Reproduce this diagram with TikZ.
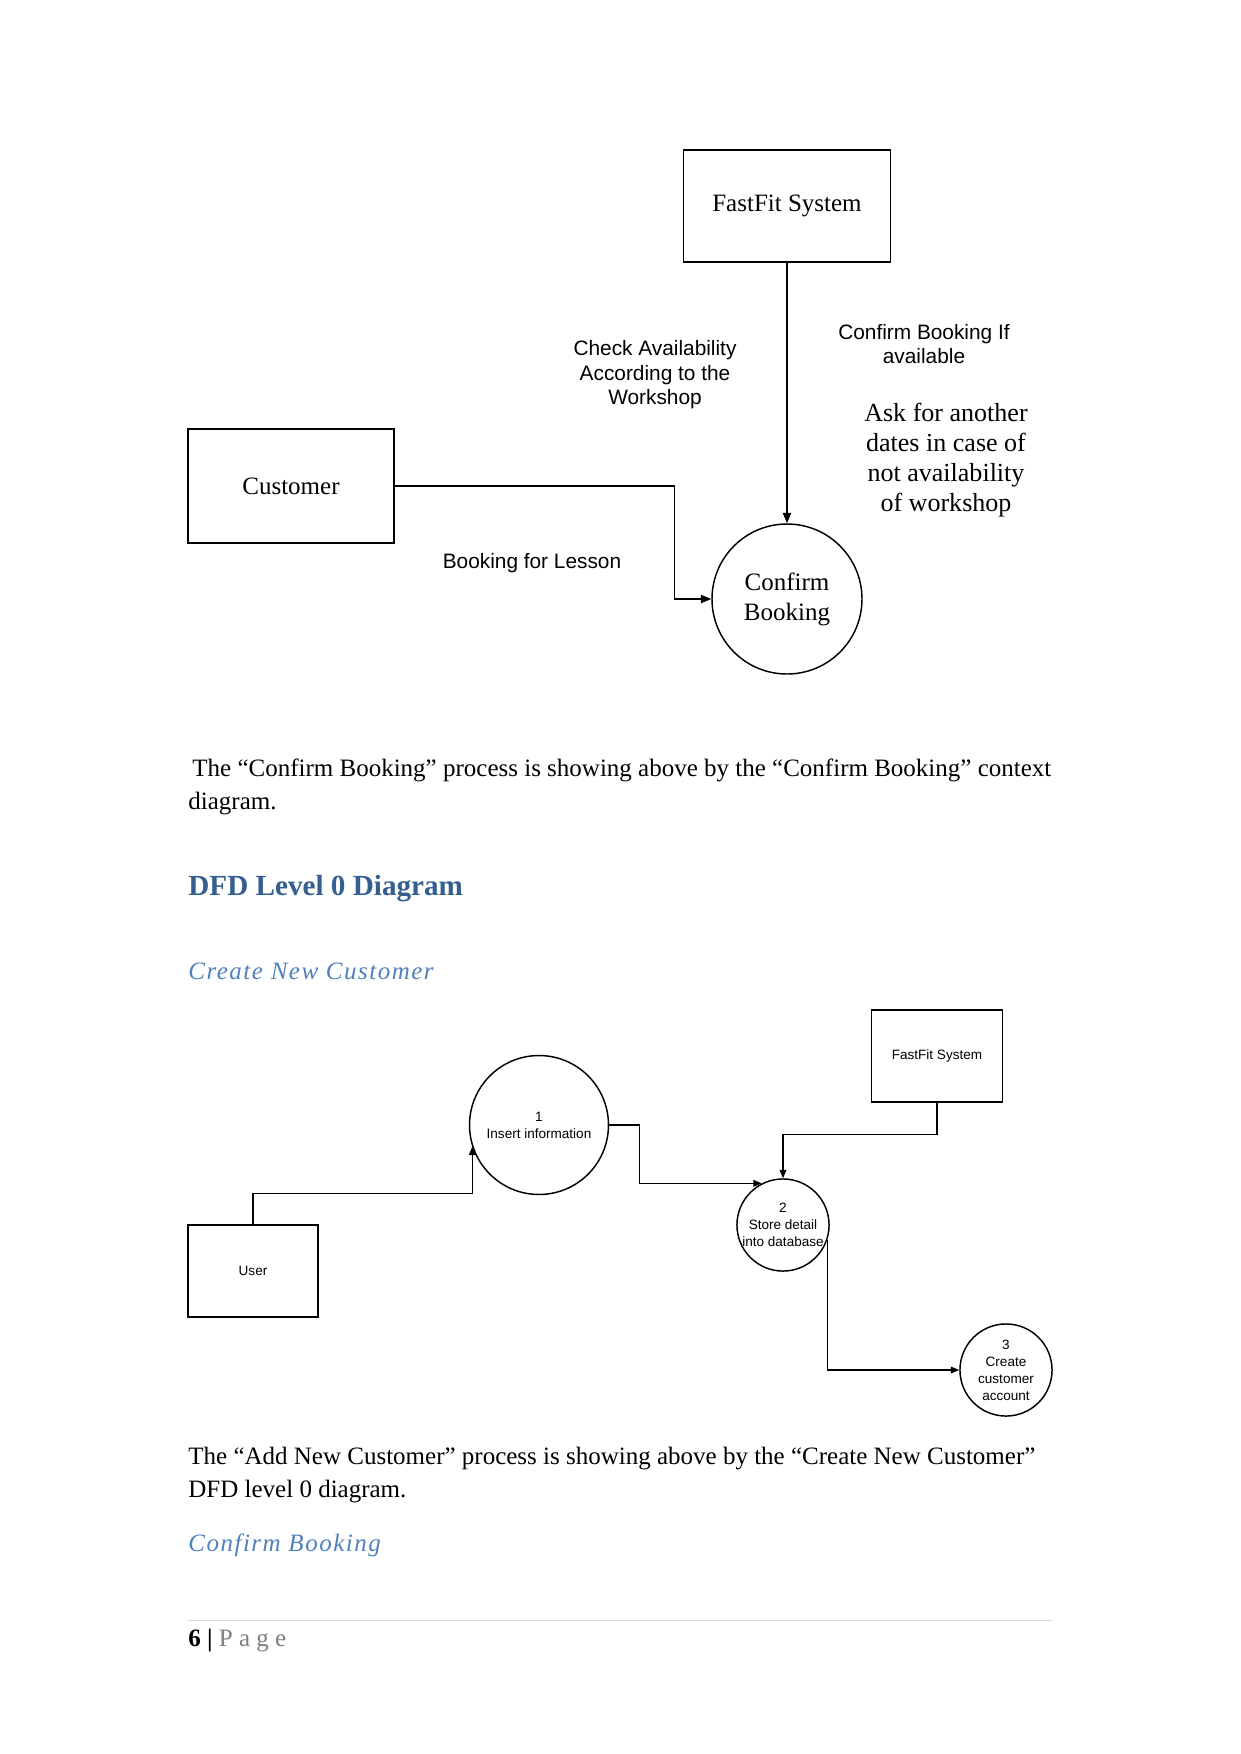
\documentclass[tikz,border=0pt]{standalone}
\usepackage{fontspec}
\setmainfont{Liberation Serif}
\setsansfont{Liberation Sans}
\newfontfamily\subheadfont[LetterSpace=6]{Liberation Serif}
\newfontfamily\pagefont[LetterSpace=25]{Liberation Serif}
\usepackage{tikz}
\usetikzlibrary{positioning,arrows.meta}
\definecolor{headblue}{RGB}{54,95,145}
\definecolor{subblue}{RGB}{79,129,189}
\definecolor{pagegray}{RGB}{127,127,127}
\definecolor{rulegray}{RGB}{217,217,217}

\begin{document}
\begin{tikzpicture}[x=0.48pt, y=-0.48pt,
      every node/.style={inner sep=0pt},
      entity/.style={draw, line width=0.7pt, align=center},
      proc/.style={draw, circle, line width=0.7pt, align=center},
      flow/.style={line width=0.6pt, -{Triangle[length=5pt,width=4pt]}},
      flowsm/.style={line width=0.6pt, -{Triangle[length=4pt,width=3.2pt]}},
      lbl/.style={font=\sffamily\fontsize{10}{11.8}\selectfont, align=center},
      note/.style={font=\fontsize{12.5}{14.3}\selectfont, align=center},
      tiny/.style={font=\sffamily\fontsize{6.5}{8.2}\selectfont, align=center},
      body/.style={font=\fontsize{12}{14}\selectfont, anchor=base west},
      subhead/.style={font=\subheadfont\itshape\fontsize{12}{14}\selectfont, text=subblue, anchor=base west}
    ]
      \useasboundingbox (0,0) rectangle (1241,1754);
      \fill[white] (0,0) rectangle (1241,1754);

      % context diagram: Confirm Booking
      \node[entity, minimum width=99.4pt, minimum height=53.8pt, font=\fontsize{12}{14}\selectfont] (sys1) at (787,206) {FastFit System};
      \node[entity, minimum width=98.9pt, minimum height=54.7pt, font=\fontsize{12}{14}\selectfont] (cust) at (291,486) {Customer};
      \node[proc, minimum size=72pt, font=\fontsize{12}{14.4}\selectfont] (book) at (787,599) {Confirm\\Booking};

      \draw[flow] (sys1.south) -- (book.north);
      \draw[flow] (cust.east) -- ++(280,0) |- (book.west);

      \node[lbl] (lblcheck) at (655,375) {Check Availability\\According to the\\Workshop};
      \node[lbl] (lblconf) at (924,344) {Confirm Booking If\\available};
      \node[note] (lblask) at (946,460) {Ask for another\\dates in case of\\not availability\\of workshop};
      \node[lbl] (lbllesson) at (532,563) {Booking for Lesson};

      \node[body] (ctx1) at (192,776) {The “Confirm Booking” process is showing above by the “Confirm Booking” context};
      \node[body] (ctx2) at (188,809) {diagram.};

      \node[anchor=base west, font=\bfseries\fontsize{14}{16}\selectfont, text=headblue] (lvl0) at (188,895) {DFD Level 0 Diagram};
      \node[subhead] (subnew) at (188,979) {Create New Customer};

      % level 0: Create New Customer
      \node[entity, minimum width=62.9pt, minimum height=44.2pt, font=\sffamily\fontsize{6.5}{8.2}\selectfont] (sys2) at (937,1056) {FastFit System};
      \node[entity, minimum width=62.4pt, minimum height=44.2pt, font=\sffamily\fontsize{6.5}{8.2}\selectfont] (user) at (253,1271) {User};
      \node[proc, tiny, minimum size=66.7pt] (p1) at (539,1125) {1\\Insert information};
      \node[proc, tiny, minimum size=44.2pt] (p2) at (783,1225) {2\\Store detail\\into database};
      \node[proc, tiny, minimum size=44.2pt] (p3) at (1006,1370) {3\\Create\\customer\\account};

      \draw[flowsm] (user.north) |- ([yshift=-22.3pt]p1.198) -- (p1.198);
      \draw[flowsm] (p1.east) -- ++(30,0) |- (p2.117);
      \draw[flowsm] (sys2.south) -- ++(0,32) -| (p2.north);
      \draw[flowsm] (p2.-19) |- (p3.west);

      \node[body] (add1) at (188,1464) {The “Add New Customer” process is showing above by the “Create New Customer”};
      \node[body] (add2) at (188,1497) {DFD level 0 diagram.};
      \node[subhead] (subconf) at (188,1551) {Confirm Booking};

      % footer
      \draw[rulegray, line width=0.5pt] (188,1620) -- (1052,1620);
      \node[body] (pgno) at (188,1646) {\textbf{6 |} {\color{pagegray}\pagefont Page}};
    \end{tikzpicture}
\end{document}
